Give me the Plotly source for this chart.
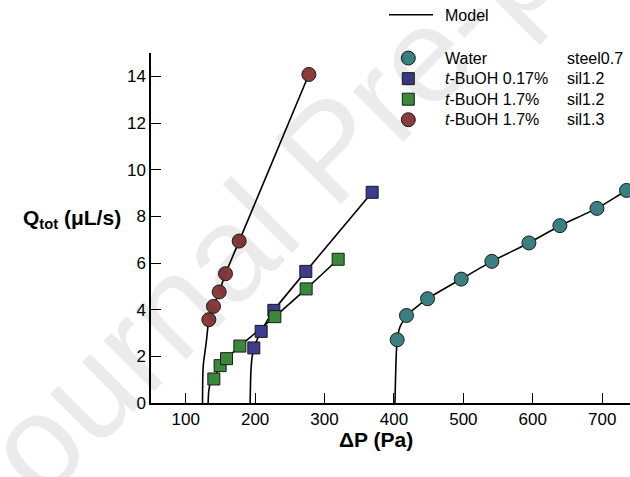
import plotly.graph_objects as go

# ---- data ----
water_p = [404.6, 418, 448.4, 496.8, 541, 594.4, 639, 692.4, 735]
water_q = [2.71, 3.75, 4.47, 5.31, 6.07, 6.86, 7.60, 8.34, 9.11]

b017_p = [198.1, 208.7, 227, 273, 368.6]
b017_q = [2.36, 3.07, 3.97, 5.64, 9.03]

b17a_p = [140.5, 149.6, 158.8, 178, 228.4, 273.5, 319.6]
b17a_q = [1.03, 1.60, 1.90, 2.44, 3.70, 4.89, 6.16]

b17b_p = [133.3, 140, 148.2, 157.3, 177, 277.4]
b17b_q = [3.57, 4.14, 4.76, 5.54, 6.94, 14.08]

# model curves
m_water_p = [401.4, 402.2, 403.2, 404.6, 408.5, 418, 448.4, 496.8, 541, 594.4, 639, 692.4, 735, 745]
m_water_q = [0, 1.0, 2.0, 2.71, 3.25, 3.75, 4.47, 5.31, 6.07, 6.86, 7.60, 8.34, 9.11, 9.25]
m_b017_p = [192.8, 193.8, 195.2, 198.1, 208.7, 227, 273, 368.6]
m_b017_q = [0, 1.29, 1.86, 2.36, 3.07, 3.97, 5.64, 9.03]
m_b17a_p = [132.3, 133.0, 135.0, 140.5, 149.6, 158.8, 178, 228.4, 273.5, 319.6]
m_b17a_q = [0, 0.45, 0.80, 1.03, 1.60, 1.90, 2.44, 3.70, 4.89, 6.16]
m_b17b_p = [124.2, 124.6, 125.6, 127.5, 130, 133.3, 140, 148.2, 157.3, 177, 277.4]
m_b17b_q = [0, 1.14, 1.71, 2.14, 2.71, 3.57, 4.14, 4.76, 5.54, 6.94, 14.08]

names = ["Water", "<i>t</i>-BuOH 0.17%", "<i>t</i>-BuOH 1.7%", "<i>t</i>-BuOH 1.7%"]
surfaces = ["steel0.7", "sil1.2", "sil1.2", "sil1.3"]
colors = ["#3b8080", "#3c3c8e", "#3a893a", "#8a3b3b"]
symbols = ["circle", "square", "square", "circle"]
x_ticks = [100, 200, 300, 400, 500, 600, 700]
y_ticks = [0, 2, 4, 6, 8, 10, 12, 14]

FONT = "Liberation Sans, Arial, sans-serif"
W, H = 630, 477
L, T, R = 151, 53, 0
B = H - 403.3
plot_w = W - L - R
plot_h = H - T - B


def px(img_x):
    return (img_x - L) / plot_w


def py(img_y):
    return (H - B - img_y) / plot_h


fig = go.Figure()

models = [(m_water_p, m_water_q), (m_b017_p, m_b017_q), (m_b17a_p, m_b17a_q), (m_b17b_p, m_b17b_q)]
for i, (mp, mq) in enumerate(models):
    fig.add_trace(go.Scatter(x=mp, y=mq, mode="lines", name=" ",
                             line=dict(color="black", width=1.6, shape="spline", smoothing=0.5),
                             showlegend=(i == 0), legend="legend2", hoverinfo="skip"))

series = [(water_p, water_q), (b017_p, b017_q), (b17a_p, b17a_q), (b17b_p, b17b_q)]
for i, (sx, sy) in enumerate(series):
    size = 14 if symbols[i] == "circle" else 12
    fig.add_trace(go.Scatter(x=sx, y=sy, mode="markers", name=" ",
                             marker=dict(symbol=symbols[i], size=size, color=colors[i],
                                         line=dict(color="#1a1a1a", width=1)),
                             legend="legend"))

# legend texts (two columns)
ROW0, ROWSTEP = 58.3, 20.55
for k, (n, s) in enumerate(zip(names, surfaces)):
    yy = ROW0 + k * ROWSTEP
    fig.add_annotation(text=n, xref="paper", yref="paper", x=px(443.3), y=py(yy),
                       xanchor="left", yanchor="middle", showarrow=False,
                       font=dict(family=FONT, size=16, color="black"))
    fig.add_annotation(text=s, xref="paper", yref="paper", x=px(565), y=py(yy),
                       xanchor="left", yanchor="middle", showarrow=False,
                       font=dict(family=FONT, size=16, color="black"))
fig.add_annotation(text="Model", xref="paper", yref="paper", x=px(443), y=py(15),
                   xanchor="left", yanchor="middle", showarrow=False,
                   font=dict(family=FONT, size=16, color="black"))

# axis titles
fig.add_annotation(text="<b>Q<sub>tot</sub> (μL/s)</b>", xref="paper", yref="paper",
                   x=px(123), y=py(219), xanchor="right", yanchor="middle",
                   showarrow=False, font=dict(family=FONT, size=21, color="black"))
fig.add_annotation(text="<b>ΔP (Pa)</b>", xref="paper", yref="paper",
                   x=px(376), y=py(440), xanchor="center", yanchor="middle",
                   showarrow=False, font=dict(family=FONT, size=21, color="black"))

# watermark
fig.add_annotation(text="Journal Pre-proof", xref="paper", yref="paper",
                   x=px(330), y=py(150), showarrow=False,
                   xanchor="center", yanchor="middle",
                   textangle=-45, font=dict(family=FONT, size=135, color="rgba(0,0,0,0.08)"))

fig.update_layout(
    width=W, height=H, margin=dict(l=L, r=R, t=T, b=B, autoexpand=False),
    paper_bgcolor="white", plot_bgcolor="white",
    font=dict(family=FONT, size=17, color="black"),
    legend=dict(xref="container", yref="container", x=(409.3 - 35) / W, y=1 - (58.3 - 15.5) / H,
                xanchor="left", yanchor="top",
                bgcolor="rgba(0,0,0,0)", itemwidth=58, font=dict(family=FONT, size=13.5),
                tracegroupgap=0),
    legend2=dict(xref="container", yref="container", x=384 / W, y=1 - 15 / H,
                 xanchor="left", yanchor="middle",
                 bgcolor="rgba(0,0,0,0)", itemwidth=44, font=dict(family=FONT, size=13.5)),
    xaxis=dict(range=[50, 740], tickvals=x_ticks, ticks="inside", ticklen=10, tickwidth=1.3,
               tickcolor="black", showline=True, linecolor="black", linewidth=1.5,
               showgrid=False, zeroline=False, tickfont=dict(size=17), ticklabelstandoff=0),
    yaxis=dict(range=[0, 15], tickvals=y_ticks, ticks="inside", ticklen=10, tickwidth=1.3,
               tickcolor="black", showline=True, linecolor="black", linewidth=1.5,
               showgrid=False, zeroline=False, tickfont=dict(size=17)),
)

fig.write_html("out.html", config={"displayModeBar": False},
               post_script="document.body.style.margin='0';document.body.style.overflow='hidden';")
